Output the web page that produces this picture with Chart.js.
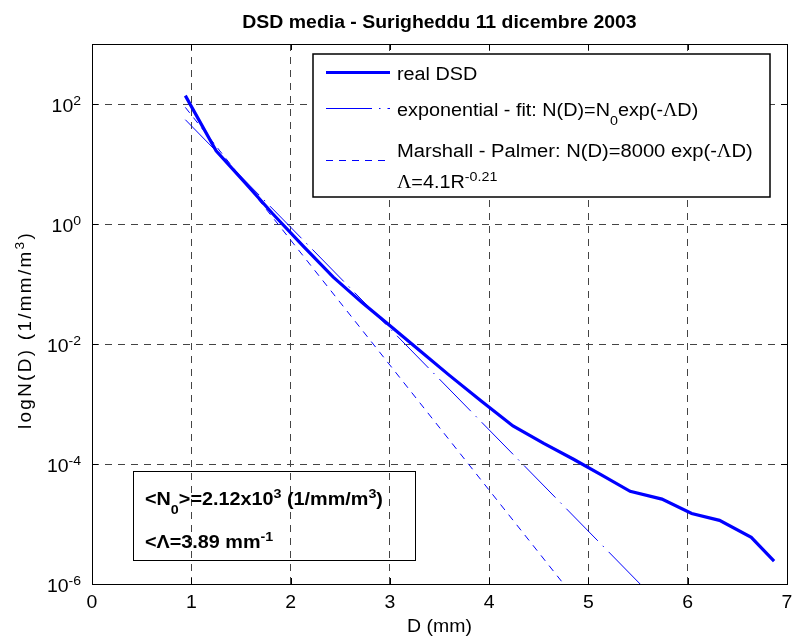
<!DOCTYPE html>
<html>
<head>
<meta charset="utf-8">
<title>DSD media</title>
<script src="https://cdn.jsdelivr.net/npm/chart.js@4.4.1/dist/chart.umd.min.js"></script>
<style>
  html, body { margin: 0; padding: 0; background: #fff; }
</style>
</head>
<body>
<canvas id="dsdChart" width="792" height="638"></canvas>
<script>
// measured mean drop size distribution
const diameters = [0.94, 1.25, 1.55, 1.82, 2.12, 2.43, 2.72, 2.99, 3.3, 3.6, 3.92, 4.24,
                   4.55, 4.85, 5.13, 5.42, 5.74, 6.04, 6.32, 6.64, 6.87];
const realN = [138, 16.6, 4.7, 1.48, 0.44, 0.13, 0.049, 0.021, 7.8e-3, 3.0e-3, 1.12e-3, 4.3e-4,
               2.2e-4, 1.2e-4, 6.6e-5, 3.5e-5, 2.6e-5, 1.5e-5, 1.15e-5, 6.0e-6, 2.4e-6];

// exponential fit N(D) = N0 exp(-lambda D)
const fitN0 = 2.12e3;
const fitLambda = 3.89;
const fitRange = [0.94, 5.6];

// Marshall - Palmer, N0 = 8000
const mpN0 = 8000;
const mpLambda = 4.8;
const mpRange = [0.94, 4.8];

const xTicks = [0, 1, 2, 3, 4, 5, 6, 7];
const yExponents = [-6, -4, -2, 0, 2];

const BLUE = '#0000ff';
const SANS = '"Liberation Sans", Arial, sans-serif';
const SERIF = '"Liberation Serif", "DejaVu Serif", serif';

function straightLine(range, n0, lam) {
    return range.map(d => ({ x: d, y: n0 * Math.exp(-lam * d) }));
}

// draws a run of text pieces, some as sub/superscript; sx stretches, track adds space per char
function drawRuns(ctx, parts, x, y, size, bold, align, sx = 1.08, track = 0) {
    const fontFor = p => (bold ? 'bold ' : '') +
        ((p.sub || p.sup) ? Math.round(size * 0.74) : size) + 'px ' + (p.serif ? SERIF : SANS);
    let total = 0;
    parts.forEach(p => {
        ctx.font = fontFor(p);
        p.w = ctx.measureText(p.t).width + track * p.t.length;
        total += p.w;
    });
    ctx.save();
    ctx.translate(x, y);
    ctx.scale(sx, 1);
    ctx.textAlign = 'left';
    ctx.textBaseline = 'alphabetic';
    let cx = align === 'center' ? -total / 2 : align === 'right' ? -total : 0;
    parts.forEach(p => {
        ctx.font = fontFor(p);
        const dy = p.sub ? size * 0.5 : p.sup ? -size * 0.4 : 0;
        if (track) {
            let c = cx;
            for (const ch of p.t) {
                ctx.fillText(ch, c, dy);
                c += ctx.measureText(ch).width + track;
            }
        } else {
            ctx.fillText(p.t, cx, dy);
        }
        cx += p.w;
    });
    ctx.restore();
}

const decorations = {
    id: 'decorations',
    afterDraw(chart) {
        const ctx = chart.ctx;
        const area = chart.chartArea;
        const xs = chart.scales.x;
        const ys = chart.scales.y;
        ctx.save();
        ctx.fillStyle = '#000';
        ctx.strokeStyle = '#000';

        // axes box and inward ticks
        ctx.lineWidth = 1;
        ctx.strokeRect(Math.round(area.left) + 0.5, Math.round(area.top) + 0.5,
            Math.round(area.right - area.left), Math.round(area.bottom - area.top));
        ctx.beginPath();
        xTicks.forEach(v => {
            const px = Math.round(xs.getPixelForValue(v)) + 0.5;
            ctx.moveTo(px, area.bottom); ctx.lineTo(px, area.bottom - 6);
            ctx.moveTo(px, area.top); ctx.lineTo(px, area.top + 6);
        });
        yExponents.forEach(e => {
            const py = Math.round(ys.getPixelForValue(Math.pow(10, e))) + 0.5;
            ctx.moveTo(area.left, py); ctx.lineTo(area.left + 6, py);
            ctx.moveTo(area.right, py); ctx.lineTo(area.right - 6, py);
        });
        ctx.stroke();

        // tick labels
        xTicks.forEach(v => {
            drawRuns(ctx, [{ t: String(v) }], xs.getPixelForValue(v), 608, 18, false, 'center');
        });
        yExponents.forEach(e => {
            const py = ys.getPixelForValue(Math.pow(10, e));
            drawRuns(ctx, [{ t: '10' }, { t: String(e), sup: true }], 81, py + 8, 18, false, 'right');
        });

        // titles
        drawRuns(ctx, [{ t: 'DSD media - Surigheddu 11 dicembre 2003' }], (area.left + area.right) / 2, 28, 18, true, 'center');
        drawRuns(ctx, [{ t: 'D (mm)' }], (area.left + area.right) / 2, 632, 18, false, 'center');
        ctx.save();
        ctx.translate(31, 330);
        ctx.rotate(-Math.PI / 2);
        drawRuns(ctx, [{ t: 'logN(D) (1/mm/m' }, { t: '3', sup: true }, { t: ')' }], 0, 0, 18, false, 'center', 1.05, 2.2);
        ctx.restore();

        // legend
        ctx.fillStyle = '#fff';
        ctx.fillRect(313, 54, 457, 143);
        ctx.strokeStyle = '#000';
        ctx.lineWidth = 1.5;
        ctx.strokeRect(313, 54, 457, 143);
        ctx.strokeStyle = BLUE;
        const sample = (y, width, dash) => {
            ctx.lineWidth = width;
            ctx.setLineDash(dash);
            ctx.beginPath();
            ctx.moveTo(326, y); ctx.lineTo(390, y);
            ctx.stroke();
        };
        sample(72.5, 3, []);
        sample(108.5, 1, [46, 7, 1.5, 7]);
        sample(160.5, 1, [7, 6]);
        ctx.setLineDash([]);
        ctx.fillStyle = '#000';
        drawRuns(ctx, [{ t: 'real DSD' }], 397, 80, 18, false, 'left', 1.1);
        drawRuns(ctx, [{ t: 'exponential - fit: N(D)=N' }, { t: '0', sub: true }, { t: 'exp(-' },
            { t: 'Λ', serif: true }, { t: 'D)' }], 397, 116, 18, false, 'left', 1.1);
        drawRuns(ctx, [{ t: 'Marshall - Palmer: N(D)=8000 exp(-' }, { t: 'Λ', serif: true }, { t: 'D)' }],
            397, 157, 18, false, 'left', 1.12);
        drawRuns(ctx, [{ t: 'Λ', serif: true }, { t: '=4.1R' }, { t: '-0.21', sup: true }], 397, 188, 18, false, 'left', 1.1);

        // fit parameters box
        ctx.strokeStyle = '#000';
        ctx.lineWidth = 1;
        ctx.strokeRect(133.5, 471.5, 282, 89);
        drawRuns(ctx, [{ t: '<N' }, { t: '0', sub: true }, { t: '>=2.12x10' }, { t: '3', sup: true },
            { t: ' (1/mm/m' }, { t: '3', sup: true }, { t: ')' }], 145, 505, 18, true, 'left', 1.1);
        drawRuns(ctx, [{ t: '<Λ=3.89 mm' }, { t: '-1', sup: true }], 145, 548, 18, true, 'left', 1.1);

        ctx.restore();
    }
};

const ctx = document.getElementById('dsdChart');

new Chart(ctx, {
    type: 'line',
    data: {
        datasets: [
            {
                label: 'real DSD',
                data: diameters.map((d, i) => ({ x: d, y: realN[i] })),
                borderColor: BLUE,
                borderWidth: 3.2,
                pointRadius: 0,
                order: 3
            },
            {
                label: 'exponential - fit',
                data: straightLine(fitRange, fitN0, fitLambda),
                borderColor: BLUE,
                borderWidth: 1,
                borderDash: [45, 7, 1.5, 7],
                pointRadius: 0,
                order: 2
            },
            {
                label: 'Marshall - Palmer',
                data: straightLine(mpRange, mpN0, mpLambda),
                borderColor: BLUE,
                borderWidth: 1,
                borderDash: [7, 6],
                pointRadius: 0,
                order: 1
            }
        ]
    },
    options: {
        responsive: false,
        animation: false,
        devicePixelRatio: 1,
        layout: { padding: { top: 44, right: 5, left: 0, bottom: 0 } },
        plugins: {
            legend: { display: false },
            title: { display: false },
            tooltip: { enabled: false }
        },
        scales: {
            x: {
                type: 'linear',
                min: 0,
                max: 7,
                afterBuildTicks: scale => { scale.ticks = xTicks.map(v => ({ value: v })); },
                afterFit: scale => { scale.height = 54; },
                ticks: { display: false },
                grid: { color: '#444', lineWidth: 1, drawTicks: false },
                border: { display: false, dash: [7, 6] }
            },
            y: {
                type: 'logarithmic',
                min: 1e-6,
                max: 1e3,
                afterBuildTicks: scale => { scale.ticks = yExponents.map(e => ({ value: Math.pow(10, e) })); },
                afterFit: scale => { scale.width = 92; },
                ticks: { display: false },
                grid: { color: '#444', lineWidth: 1, drawTicks: false },
                border: { display: false, dash: [7, 6] }
            }
        }
    },
    plugins: [decorations]
});
</script>
</body>
</html>
